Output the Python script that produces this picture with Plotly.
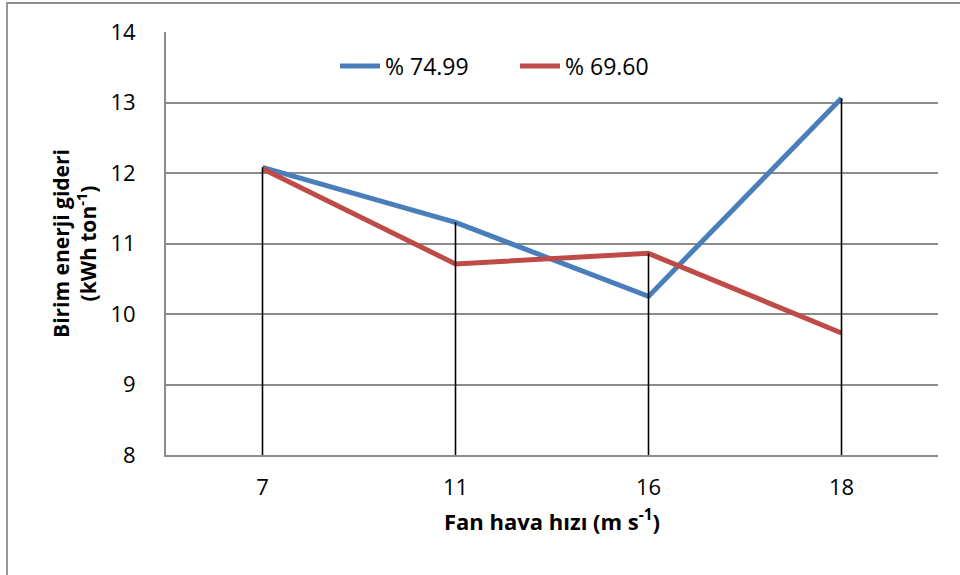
import plotly.graph_objects as go

categories = ["7", "11", "16", "18"]
series_names = ["% 74.99", "% 69.60"]
blue_values = [12.08, 11.30, 10.25, 13.06]
red_values = [12.06, 10.71, 10.86, 9.73]
y_ticks = [8, 9, 10, 11, 12, 13, 14]

BLUE = "#4A7EBB"
RED = "#BE4B48"
GRID = "#8C8C8C"
FONT = "Open Sans"

xi = list(range(len(categories)))
tops = [max(b, r) for b, r in zip(blue_values, red_values)]

fig = go.Figure()

fig.add_trace(go.Scatter(
    x=xi, y=blue_values, mode="lines", name=series_names[0],
    line=dict(color=BLUE, width=5),
))
fig.add_trace(go.Scatter(
    x=xi, y=red_values, mode="lines", name=series_names[1],
    line=dict(color=RED, width=5),
))

# drop lines from highest point to axis bottom
dx, dy = [], []
for i, t in zip(xi, tops):
    dx += [i, i, None]
    dy += [t, y_ticks[0], None]
fig.add_trace(go.Scatter(
    x=dx, y=dy, mode="lines", showlegend=False, hoverinfo="skip",
    line=dict(color="black", width=1.6),
))

L, R, T, B = 166, 22, 32, 120
W, H = 960, 575
pw, ph = W - L - R, H - T - B

def px_x(p):
    return (p - L) / pw

def px_y(p):
    return (H - B - p) / ph

fig.add_shape(type="rect", xref="paper", yref="paper",
              x0=px_x(7), x1=px_x(975), y0=px_y(590), y1=px_y(3),
              line=dict(color=GRID, width=1.8), fillcolor="rgba(0,0,0,0)",
              layer="below")

fig.update_layout(
    width=W, height=H,
    margin=dict(l=L, r=R, t=T, b=B),
    paper_bgcolor="white", plot_bgcolor="white",
    font=dict(family=FONT, size=22, color="black"),
    showlegend=True,
    legend=dict(
        orientation="h", x=px_x(335), y=px_y(66),
        xanchor="left", yanchor="middle",
        font=dict(family=FONT, size=23, color="black"),
        bgcolor="rgba(0,0,0,0)", itemwidth=40, tracegroupgap=0,
        entrywidth=125, entrywidthmode="pixels",
    ),
    xaxis=dict(
        range=[-0.5, len(categories) - 0.5],
        tickmode="array", tickvals=xi, ticktext=categories,
        showgrid=False, zeroline=False,
        showline=True, linecolor=GRID, linewidth=1.8,
        ticks="", ticklabelstandoff=12,
        tickfont=dict(family=FONT, size=22),
        title=dict(text="<b>Fan hava hızı (m s<sup>-1</sup>)</b>",
                   font=dict(family=FONT, size=22), standoff=14),
    ),
    yaxis=dict(
        range=[y_ticks[0], y_ticks[-1]],
        tickmode="array", tickvals=y_ticks,
        showgrid=True, gridcolor=GRID, gridwidth=1.8,
        zeroline=False,
        showline=True, linecolor=GRID, linewidth=1.8,
        ticks="", ticklabelstandoff=24,
        tickfont=dict(family=FONT, size=22),
        title=dict(text="<b>Birim enerji gideri<br>(kWh ton<sup>-1</sup>)</b>",
                   font=dict(family=FONT, size=21), standoff=8),
    ),
)

fig.write_html("out.html", config={"displayModeBar": False},
               post_script="document.body.style.margin='0';")
